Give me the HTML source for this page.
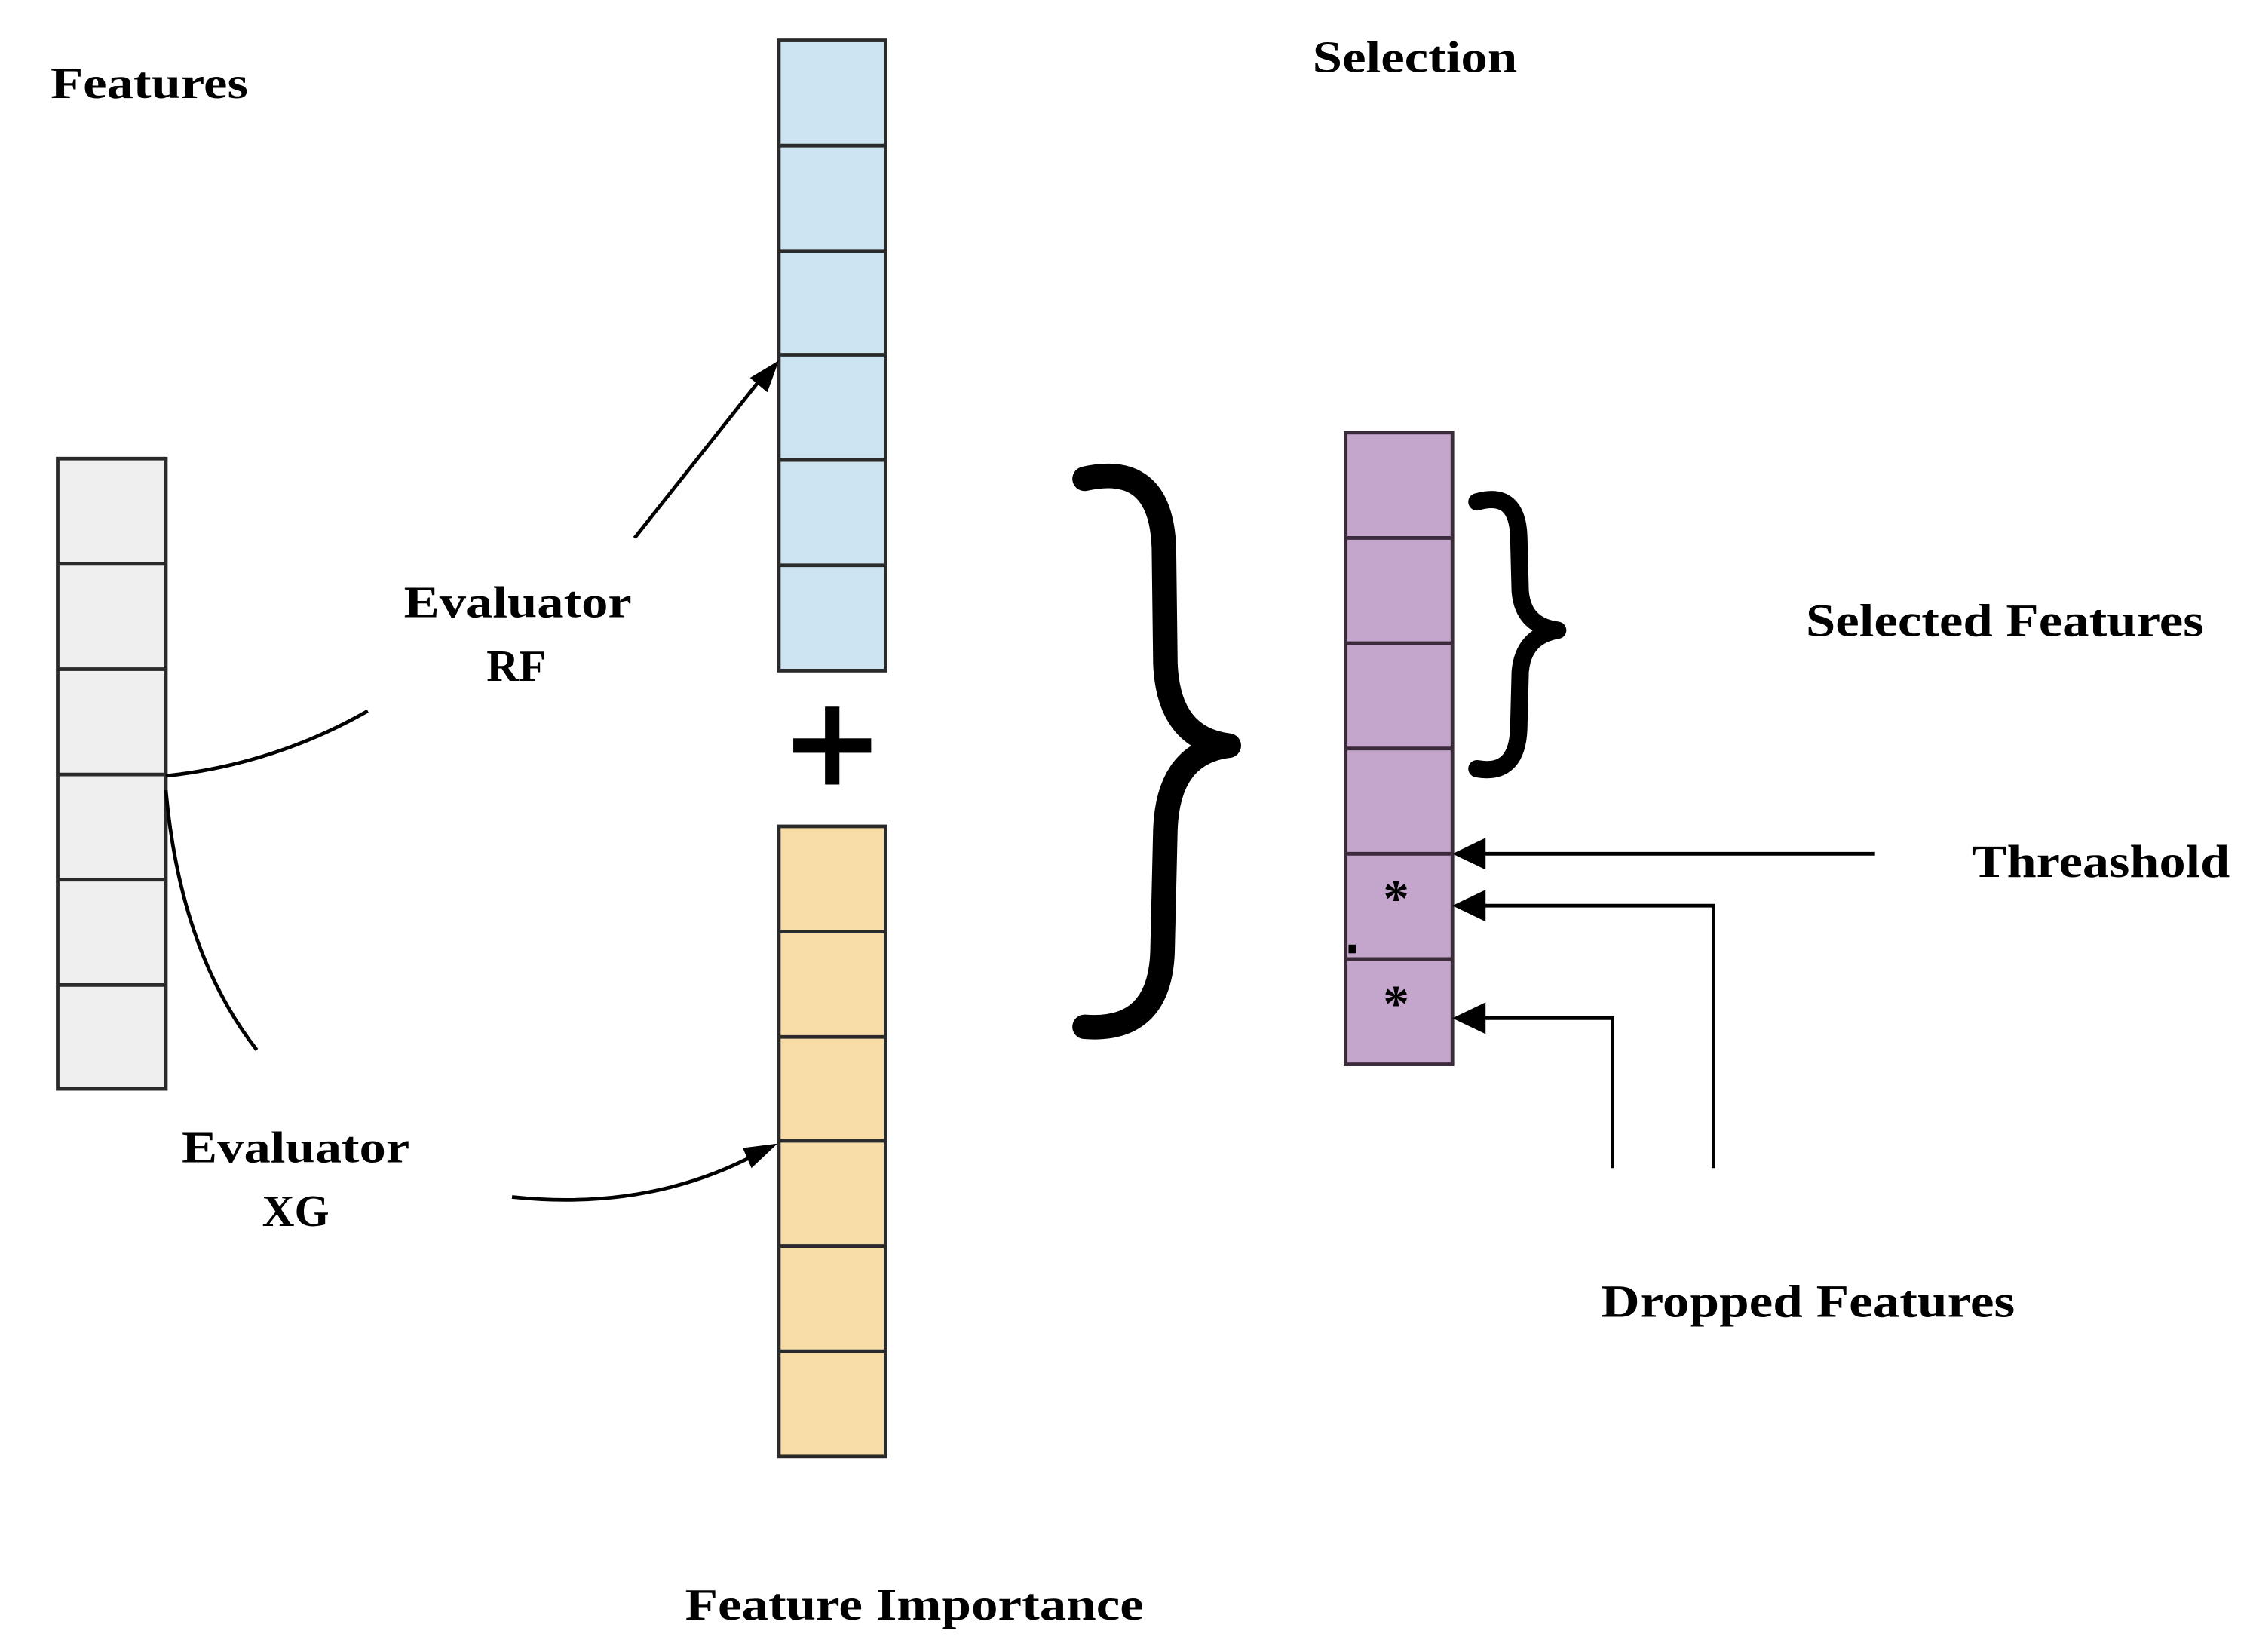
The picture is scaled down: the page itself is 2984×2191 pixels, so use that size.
<!DOCTYPE html>
<html><head><meta charset="utf-8"><style>
html,body{margin:0;padding:0;background:#fff;}
svg{display:block;}
text{font-family:"Liberation Serif",serif;font-weight:bold;fill:#000;}
</style></head><body>
<svg width="2984" height="2191" viewBox="0 0 1560 1145.5" preserveAspectRatio="none" xmlns="http://www.w3.org/2000/svg">
<rect width="1560" height="1145.5" fill="#fff"/>
<!-- Features column -->
<g stroke="#2a2a2a" stroke-width="2.5" fill="#efefef">
<rect x="40" y="318" width="75" height="437"/>
<line x1="40" y1="391" x2="115" y2="391"/><line x1="40" y1="464" x2="115" y2="464"/><line x1="40" y1="537" x2="115" y2="537"/><line x1="40" y1="610" x2="115" y2="610"/><line x1="40" y1="683" x2="115" y2="683"/>
</g>
<!-- Blue -->
<g stroke="#2a2a2a" stroke-width="2.5" fill="#cce4f2">
<rect x="540" y="28" width="74" height="437"/>
<line x1="540" y1="101" x2="614" y2="101"/><line x1="540" y1="174" x2="614" y2="174"/><line x1="540" y1="246" x2="614" y2="246"/><line x1="540" y1="319" x2="614" y2="319"/><line x1="540" y1="392" x2="614" y2="392"/>
</g>
<!-- Orange -->
<g stroke="#2a2a2a" stroke-width="2.5" fill="#f8dca6">
<rect x="540" y="573" width="74" height="437"/>
<line x1="540" y1="646" x2="614" y2="646"/><line x1="540" y1="719" x2="614" y2="719"/><line x1="540" y1="791" x2="614" y2="791"/><line x1="540" y1="864" x2="614" y2="864"/><line x1="540" y1="937" x2="614" y2="937"/>
</g>
<!-- Plus -->
<rect x="550" y="512" width="54" height="10" fill="#000"/>
<rect x="572" y="490" width="10" height="54" fill="#000"/>
<!-- Purple -->
<g stroke="#3a2a3a" stroke-width="2.5" fill="#c4a6cc">
<rect x="933" y="300" width="74" height="438"/>
<line x1="933" y1="373" x2="1007" y2="373"/><line x1="933" y1="446" x2="1007" y2="446"/><line x1="933" y1="519" x2="1007" y2="519"/><line x1="933" y1="592" x2="1007" y2="592"/><line x1="933" y1="665" x2="1007" y2="665"/>
</g>
<rect x="935" y="655" width="5" height="6" fill="#000"/>
<text x="968" y="635" font-size="36" text-anchor="middle">*</text>
<text x="968" y="708" font-size="36" text-anchor="middle">*</text>
<!-- connectors -->
<g fill="none" stroke="#000" stroke-width="2.5">
<path d="M115,538 Q190,530 255,493"/>
<path d="M115,548 Q125,660 178,728"/>
<path d="M440,373 Q490,310 528,262"/>
<path d="M355,830 Q450,840 525,800"/>
<line x1="1300" y1="592" x2="1020" y2="592"/>
<polyline points="1188,810 1188,628 1020,628"/>
<polyline points="1118,810 1118,706 1020,706"/>
</g>
<g fill="#000">
<polygon points="540,250 520,262 532,272"/>
<polygon points="539,793 515,796 521,810"/>
<polygon points="1007,592 1030,581 1030,603"/>
<polygon points="1007,628 1030,617 1030,639"/>
<polygon points="1007,706 1030,695 1030,717"/>
</g>
<!-- braces -->
<g fill="none" stroke="#000" stroke-linecap="round" stroke-linejoin="round">
<path stroke-width="17" d="M752,332 Q805,320 807,380 L808,460 Q810,512 852,517 Q810,522 808,575 L806,660 Q804,716 752,712"/>
<path stroke-width="12" d="M1024,348 Q1052,340 1053,372 L1054,410 Q1056,434 1080,437 Q1056,441 1054,466 L1053,505 Q1052,538 1024,533"/>
</g>
<!-- labels -->
<text x="35" y="68" font-size="31" textLength="137" lengthAdjust="spacingAndGlyphs">Features</text>
<text x="910" y="50" font-size="31" textLength="142" lengthAdjust="spacingAndGlyphs">Selection</text>
<text x="280" y="428" font-size="31" textLength="158" lengthAdjust="spacingAndGlyphs">Evaluator</text>
<text x="358" y="472" font-size="31" text-anchor="middle">RF</text>
<text x="126" y="806" font-size="31" textLength="158" lengthAdjust="spacingAndGlyphs">Evaluator</text>
<text x="205" y="850" font-size="31" text-anchor="middle">XG</text>
<text x="475" y="1123" font-size="31" textLength="318" lengthAdjust="spacingAndGlyphs">Feature Importance</text>
<text x="1252" y="441" font-size="32" textLength="276" lengthAdjust="spacingAndGlyphs">Selected Features</text>
<text x="1367" y="608" font-size="32" textLength="179" lengthAdjust="spacingAndGlyphs">Threashold</text>
<text x="1110" y="913" font-size="32" textLength="287" lengthAdjust="spacingAndGlyphs">Dropped Features</text>
</svg>
</body></html>
